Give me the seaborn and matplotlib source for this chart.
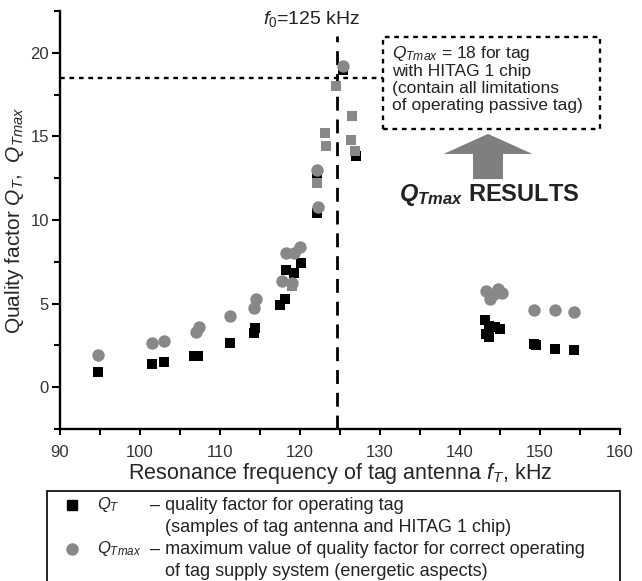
import matplotlib
matplotlib.use("Agg")
import matplotlib.pyplot as plt
import seaborn as sns
import pandas as pd
from matplotlib.patches import Rectangle
from matplotlib.lines import Line2D
from matplotlib.ticker import MultipleLocator

# === Data ===
# Q_T : quality factor for operating tag (black squares)
qt_freq = [94.7, 101.5, 103.0, 106.8, 107.3, 111.2, 114.2, 114.4, 117.5, 118.1,
           118.2, 119.2, 120.1, 122.1, 122.1, 125.4, 127.0,
           143.1, 143.6, 144.4, 145.0, 143.3, 143.6, 149.3, 149.5, 151.9, 154.3]
qt_val = [0.9, 1.4, 1.5, 1.85, 1.85, 2.65, 3.25, 3.55, 4.9, 5.25,
          7.0, 6.85, 7.45, 10.4, 12.6, 18.95, 13.8,
          4.0, 3.65, 3.6, 3.5, 3.2, 3.0, 2.6, 2.5, 2.3, 2.2]

# Q_Tmax : maximum value of quality factor (grey circles)
qmax_freq = [94.8, 101.5, 103.0, 107.0, 107.4, 111.2, 114.2, 114.5, 117.7, 119.0,
             118.3, 119.3, 120.0, 122.1, 122.2, 125.4,
             143.2, 143.7, 144.2, 144.7, 145.3, 149.3, 151.9, 154.3]
qmax_val = [1.9, 2.65, 2.75, 3.3, 3.6, 4.25, 4.75, 5.3, 6.35, 6.25,
            8.0, 8.05, 8.4, 13.0, 10.8, 19.2,
            5.75, 5.3, 5.6, 5.85, 5.65, 4.6, 4.6, 4.5]

# points where both values coincide (grey squares)
both_freq = [119.0, 122.1, 123.1, 123.25, 124.5, 126.5, 126.4, 126.9]
both_val = [6.05, 12.2, 15.2, 14.4, 18.0, 16.2, 14.8, 14.1]

f0 = 124.6          # resonance of the reader, kHz
qmax_limit = 18.5   # Q_Tmax level for HITAG 1 tag

df_qt = pd.DataFrame({"freq": qt_freq, "q": qt_val})
df_qmax = pd.DataFrame({"freq": qmax_freq, "q": qmax_val})
df_both = pd.DataFrame({"freq": both_freq, "q": both_val})

# === Style ===
sns.set_theme(style="ticks")
plt.rcParams["font.family"] = ["Liberation Sans", "DejaVu Sans"]
plt.rcParams.update({
    "mathtext.fontset": "custom",
    "mathtext.rm": "Liberation Sans",
    "mathtext.it": "Liberation Sans:italic",
    "mathtext.bf": "Liberation Sans:bold",
    "mathtext.bfit": "Liberation Sans:italic:bold",
    "text.color": "#222222",
})
grey = "#888888"

fig = plt.figure(figsize=(6.42, 5.81), dpi=100)
ax = fig.add_axes([60 / 642, 152 / 581, 560 / 642, 418 / 581])

sns.scatterplot(data=df_qt, x="freq", y="q", marker="s", s=62, color="black",
                linewidth=0, ax=ax, zorder=3)
sns.scatterplot(data=df_qmax, x="freq", y="q", marker="o", s=80, color=grey,
                linewidth=0, ax=ax, zorder=4)
sns.scatterplot(data=df_both, x="freq", y="q", marker="s", s=62, color=grey,
                linewidth=0, ax=ax, zorder=5)

ax.set_xlim(90, 160)
ax.set_ylim(-2.5, 22.5)
ax.xaxis.set_major_locator(MultipleLocator(10))
ax.xaxis.set_minor_locator(MultipleLocator(5))
ax.yaxis.set_major_locator(MultipleLocator(5))
ax.yaxis.set_minor_locator(MultipleLocator(2.5))
sns.despine(ax=ax)
for side in ["left", "bottom"]:
    ax.spines[side].set_linewidth(1.7)
    ax.spines[side].set_color("black")
ax.tick_params(axis="both", which="both", width=1.5, color="black",
               labelsize=12, labelcolor="#333333", direction="out")
ax.tick_params(axis="x", which="major", length=4.5, pad=7)
ax.tick_params(axis="x", which="minor", length=4.5)
ax.tick_params(axis="y", which="major", length=6, pad=2)
ax.tick_params(axis="y", which="minor", length=4.5)

ax.set_xlabel(r"Resonance frequency of tag antenna $\mathit{f_T}$, kHz",
              fontsize=15.5, labelpad=1)
ax.set_ylabel(r"Quality factor $\mathit{Q_T}$,  $\mathit{Q_{Tmax}}$",
              fontsize=15, labelpad=3)

# reference lines
ax.plot([f0, f0], [-2.5, 21.0], color="black", lw=2, ls=(0, (5, 3.2)), zorder=2)
ax.plot([90, 130.4], [qmax_limit, qmax_limit], color="black", lw=1.7,
        ls=(0, (2, 2)), zorder=2)
ax.text(115.4, 22.0, r"$\mathit{f_0}$=125 kHz", fontsize=14, va="center", ha="left")

# annotation box
ax.add_patch(Rectangle((130.4, 15.45), 27.1, 5.5, fill=False, ec="black",
                       lw=1.7, ls=(0, (2, 2)), zorder=2))
ax.text(131.5, 20.55,
        "$\\mathit{Q_{Tmax}}$ = 18 for tag\nwith HITAG 1 chip\n"
        "(contain all limitations\nof operating passive tag)",
        fontsize=12.5, va="top", ha="left", linespacing=1.15)
ax.arrow(143.5, 12.45, 0, 2.7, width=3.75, head_width=11.1, head_length=1.2,
         length_includes_head=True, color="#7f7f7f", lw=0, zorder=2)
ax.text(143.6, 11.5, r"$\mathbfit{Q_{Tmax}}$ RESULTS", fontsize=17,
        fontweight="bold", ha="center", va="center")

# legend box below the axes
fig.add_artist(Rectangle((47 / 642, -0.1), 573 / 642, 0.1 + 90 / 581,
                         transform=fig.transFigure, fill=False, ec="black",
                         lw=1.2, clip_on=False))
rows_y = [1 - 505 / 581, 1 - 527 / 581, 1 - 549 / 581, 1 - 571 / 581]
fig.add_artist(Line2D([72 / 642], [rows_y[0]], marker="s", ms=7, color="black",
                      ls="none", transform=fig.transFigure))
fig.add_artist(Line2D([72 / 642], [rows_y[2]], marker="o", ms=8, color=grey,
                      ls="none", transform=fig.transFigure))
fs = 13
fig.text(97 / 642, rows_y[0], r"$\mathit{Q_T}$", fontsize=12, va="center")
fig.text(150 / 642, rows_y[0], "– quality factor for operating tag",
         fontsize=fs, va="center")
fig.text(165 / 642, rows_y[1], "(samples of tag antenna and HITAG 1 chip)",
         fontsize=fs, va="center")
fig.text(97 / 642, rows_y[2], r"$\mathit{Q_{Tmax}}$", fontsize=12, va="center")
fig.text(150 / 642, rows_y[2],
         "– maximum value of quality factor for correct operating",
         fontsize=fs, va="center")
fig.text(165 / 642, rows_y[3], "of tag supply system (energetic aspects)",
         fontsize=fs, va="center")

fig.savefig("out.png", dpi=100)
